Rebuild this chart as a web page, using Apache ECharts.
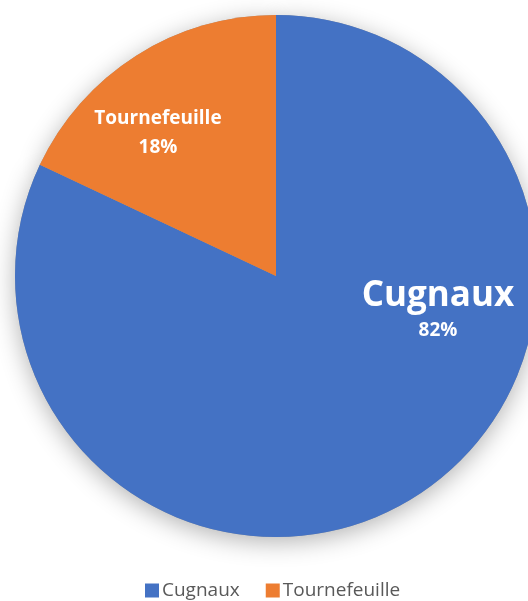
<!DOCTYPE html>
<html><head><meta charset="utf-8">
<script src="https://cdn.jsdelivr.net/npm/echarts@6/dist/echarts.min.js"></script>
<style>html,body{margin:0;padding:0;background:#fff}#c{width:528px;height:601px}</style>
</head><body><div id="c"></div>
<script>
const categories = ['Cugnaux', 'Tournefeuille'];
const values = [82, 18];
const colors = ['#4472C4', '#ED7D31'];

const chart = echarts.init(document.getElementById('c'), null, {renderer: 'canvas'});
const data = categories.map((n, i) => ({name: n, value: values[i], itemStyle: {color: colors[i]}}));
const labelPos = [[438, 310], [158, 133]];
const FONT = '"Open Sans", sans-serif';
chart.setOption({
  animation: false,
  legend: {
    top: 576, left: 140,
    itemWidth: 14, itemHeight: 14, itemGap: 26,
    icon: 'rect',
    textStyle: {color: '#595959', fontSize: 19, fontFamily: FONT, padding: [0, 0, 0, -2]},
    data: categories.map((n, i) => ({name: n, itemStyle: {color: colors[i]}}))
  },
  series: [
    {
      type: 'pie', center: [276, 276], radius: 261, startAngle: 90, clockwise: true,
      z: 2,
      labelLine: {show: false},
      label: {
        show: true, position: 'inside', color: '#fff', fontFamily: FONT,
        formatter: p => (p.dataIndex === 0 ? '{big|' + p.name + '}' : '{med|' + p.name + '}') + '\n{pct|' + Math.round(p.percent) + '%}',
        rich: {
          big: {fontSize: 35, fontWeight: 'bold', color: '#fff', fontFamily: FONT, lineHeight: 42},
          med: {fontSize: 19, fontWeight: 'bold', color: '#fff', fontFamily: FONT, lineHeight: 30},
          pct: {fontSize: 19, fontWeight: 'bold', color: '#fff', fontFamily: FONT, lineHeight: 28}
        }
      },
      labelLayout: p => ({x: labelPos[p.dataIndex][0], y: labelPos[p.dataIndex][1], align: 'center', verticalAlign: 'middle'}),
      data: data
    },
    {
      type: 'pie', silent: true, center: [276, 276], radius: 261, startAngle: 90, clockwise: true,
      label: {show: false}, labelLine: {show: false},
      itemStyle: {shadowBlur: 24, shadowColor: 'rgba(0,0,0,0.3)', shadowOffsetY: 5},
      data: data.map(d => ({name: d.name, value: d.value, itemStyle: {color: '#999'}})),
      z: 1
    }
  ]
});
</script></body></html>
